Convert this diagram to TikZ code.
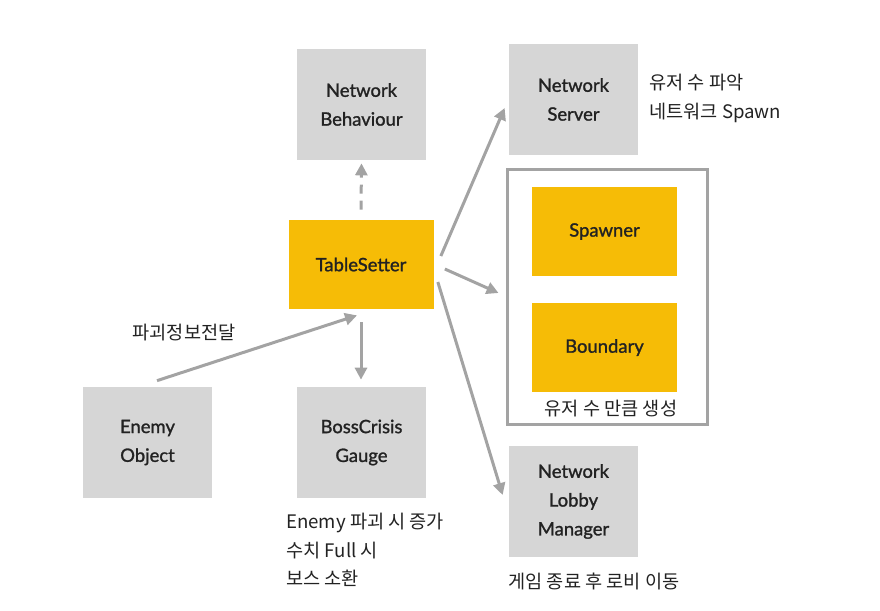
\documentclass[tikz,border=0pt]{standalone}
\usepackage{fontspec}
\setmainfont{Noto Sans CJK KR}
\newfontfamily\boxfont{Lato}[FakeBold=1.3]
\usepackage{xcolor}
\usetikzlibrary{arrows.meta}
\usetikzlibrary{calc}
\definecolor{boxgray}{HTML}{D6D6D6}
\definecolor{boxyellow}{HTML}{F6BC06}
\definecolor{arrgray}{HTML}{A3A3A3}
\definecolor{txt}{HTML}{222222}
\newlength\px
\setlength\px{0.02cm}

\begin{document}
\begin{tikzpicture}[x=1\px,y=-1\px,
graybox/.style={fill=boxgray, minimum width=129\px, minimum height=111\px, align=center,
  font=\boxfont\fontsize{10.5pt}{16.4pt}\selectfont, text=txt, inner sep=0pt},
yellowbox/.style={fill=boxyellow, minimum width=145\px, minimum height=89\px, align=center,
  font=\boxfont\fontsize{10.5pt}{16.4pt}\selectfont, text=txt, inner sep=0pt},
frame/.style={draw=arrgray, line width=3\px, minimum width=200\px, minimum height=255\px, inner sep=0pt},
note/.style={font=\fontsize{10.6pt}{16.4pt}\selectfont, text=txt, inner sep=0pt, align=left},
arr/.style={-{Triangle[length=6.8pt,width=6.8pt]}, draw=arrgray, line width=3\px}]
\useasboundingbox (0,0) rectangle (880,610);

\node[graybox] (nb) at (361.5,104.5) {Network\\Behaviour};
\node[graybox] (ns) at (573.5,99.5) {Network\\Server};
\node[yellowbox] (ts) at (361,264.5) {TableSetter};
\node[frame] (fr) at (607,296.5) {};
\node[yellowbox] (sp) at (604.5,231.5) {Spawner};
\node[yellowbox] (bd) at (604.5,347.5) {Boundary};
\node[note] (frnote) at (611,409) {유저 수 만큼 생성};
\node[graybox] (eo) at (147.5,442.5) {Enemy\\Object};
\node[graybox] (bc) at (361.5,442.5) {BossCrisis\\Gauge};
\node[graybox] (nl) at (573.5,501.5) {Network\\Lobby\\Manager};

\node[note, anchor=west] (nsnote) at (649,98.5) {유저 수 파악\\네트워크 Spawn};
\node[note, anchor=west] (bcnote) at (286,550) {Enemy 파괴 시 증가\\수치 Full 시\\보스 소환};
\node[note] (nlnote) at (594,581) {게임 종료 후 로비 이동};
\node[note] (eonote) at (184,333) {파괴정보전달};

\draw[arr, dash pattern=on 5.1pt off 4pt] ($(ts.north)+(0,-10)$) -- ($(nb.south)+(0,3)$);
\draw[arr] ($(ts.east)+(7,-8.5)$) -- ($(ns.west)+(-4,8.5)$);
\draw[arr] ($(ts.east)+(11,4.5)$) -- ($(fr.west)+(-7,-3.5)$);
\draw[arr] ($(ts.east)+(4,17.5)$) -- ($(nl.west)+(-6,-6.5)$);
\draw[arr] ($(ts.south)+(0,13)$) -- ($(bc.north)+(-0.5,-7)$);
\draw[arr] ($(eo.north)+(9.5,-6)$) -- ($(ts.south)+(-4,6)$);

\end{tikzpicture}
\end{document}
